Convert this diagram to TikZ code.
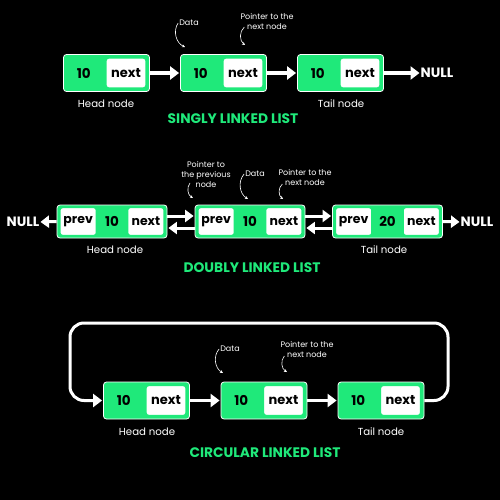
\documentclass[tikz,border=0pt]{standalone}
\usepackage{fontspec}
\setmainfont{Poppins}
\usetikzlibrary{positioning,arrows.meta,calc}
\definecolor{lgreen}{RGB}{31,233,122}
\tikzset{
  frame/.style={draw=white,line width=0.8pt,fill=lgreen,rounded corners=3pt,inner sep=0pt},
  cell/.style={draw=lgreen,line width=2.4pt,fill=white,rounded corners=3pt,inner sep=0pt,
    text=black,font=\fontsize{13}{14}\selectfont\bfseries},
  datum/.style={inner sep=0pt,text=black,font=\fontsize{13.5}{14}\selectfont\bfseries},
  caption/.style={text=white,font=\fontsize{10.2}{11}\selectfont},
  note/.style={text=white,align=center,inner sep=0pt,font=\fontsize{8}{10}\selectfont},
  title/.style={text=lgreen,font=\fontsize{13.8}{15}\selectfont\bfseries},
  null/.style={text=white,inner sep=0pt,font=\fontsize{13.5}{14}\selectfont\bfseries},
  link/.style={draw=white,line width=3.5pt,shorten >=1pt,-{Triangle[length=9pt,width=13pt]}},
  dlink/.style={draw=white,line width=3pt,shorten >=1pt,-{Triangle[length=8.5pt,width=12pt]}},
  curl/.style={draw=white,line width=0.6pt,-{Stealth[length=3pt,width=3pt]}}
}
\begin{document}
\begin{tikzpicture}[x=1pt,y=-1pt]
\fill[black] (0,0) rectangle (500,500);
\useasboundingbox (0,0) rectangle (500,500);

% singly linked list
\foreach \i/\x in {1/106.5,2/223.5,3/340.5}{
  \node[frame,minimum width=86pt,minimum height=37pt] (s\i) at (\x,73) {};
  \node[cell,minimum width=41pt,minimum height=31pt,left=2.2pt of s\i.east] (s\i n) {next};
  \node[datum] (s\i d) at ($(s\i.west)!0.5!(s\i n.west)$) {10};
}
\node[null] (snull) at (437,73) {NULL};
\draw[link] (s1.east) -- (s2.west);
\draw[link] (s2.east) -- (s3.west);
\draw[link] (s3.east) -- (snull.west);
\node[caption] (shead) at (106,104) {Head node};
\node[caption] (stail) at (341,104) {Tail node};
\node[title] (stitle) at (233,119) {SINGLY LINKED LIST};
\node[note] (sdata) at (189,23) {Data};
\node[note] (sptr) at (267,21) {Pointer to the\\next node};
\coordinate (sdtip) at (185,47);
\coordinate (sptip) at (245,45);
\draw[curl] ([xshift=-1pt]sdata.west) to[bend right=50] (sdtip);
\draw[curl] ($(sptr.west)+(4,6)$) to[bend right=50] (sptip);

% doubly linked list
\foreach \i/\x/\v in {1/112/10,2/250/10,3/387.5/20}{
  \node[frame,minimum width=110pt,minimum height=33pt] (d\i) at (\x,221.5) {};
  \node[cell,font=\fontsize{12.5}{13}\selectfont\bfseries,minimum width=37.5pt,minimum height=29pt,right=1.6pt of d\i.west] (d\i p) {prev};
  \node[cell,font=\fontsize{12.5}{13}\selectfont\bfseries,minimum width=37.5pt,minimum height=29pt,left=1.6pt of d\i.east] (d\i n) {next};
  \node[datum] (d\i d) at ($(d\i p.east)!0.5!(d\i n.west)$) {\v};
}
\node[null] (dnulll) at (23,222) {NULL};
\node[null] (dnullr) at (477,222) {NULL};
\draw[dlink] (d1.west) -- (dnulll.east);
\draw[dlink] (d3.east) -- (dnullr.west);
\draw[dlink] ([yshift=5.5pt]d1.east) -- ([yshift=5.5pt]d2.west);
\draw[dlink] ([yshift=-6.5pt]d2.west) -- ([yshift=-6.5pt]d1.east);
\draw[dlink] ([yshift=5.5pt]d2.east) -- ([yshift=5.5pt]d3.west);
\draw[dlink] ([yshift=-6.5pt]d3.west) -- ([yshift=-6.5pt]d2.east);
\node[caption] (dhead) at (115,250) {Head node};
\node[caption] (dtail) at (384,250) {Tail node};
\node[title] (dtitle) at (252,268) {DOUBLY LINKED LIST};
\node[note] (dprv) at (206,174) {Pointer to\\the previous\\node};
\node[note] (ddata) at (255,174) {Data};
\node[note] (dptr) at (305,177) {Pointer to the\\next node};
\coordinate (dptip) at (193,198);
\coordinate (ddtip) at (248,199);
\coordinate (dntip) at (283,199);
\draw[curl] (190,183) to[bend right=50] (dptip);
\draw[curl] ([xshift=-1pt]ddata.west) to[bend right=50] (ddtip);
\draw[curl] ($(dptr.west)+(4,7)$) to[bend right=50] (dntip);

% circular linked list
\foreach \i/\x in {1/146.5,2/264,3/381}{
  \node[frame,minimum width=86pt,minimum height=37pt] (c\i) at (\x,400.5) {};
  \node[cell,minimum width=41pt,minimum height=31pt,left=2.2pt of c\i.east] (c\i n) {next};
  \node[datum] (c\i d) at ($(c\i.west)!0.5!(c\i n.west)$) {10};
}
\coordinate (ctop) at (448,323);
\coordinate (cleft) at (70,323);
\draw[link] (c1.east) -- (c2.west);
\draw[link] (c2.east) -- (c3.west);
\draw[link,line width=3pt,rounded corners=14pt] (c3.east) -| (ctop) -- (cleft) |- (c1.west);
\node[caption] (chead) at (147,432) {Head node};
\node[caption] (ctail) at (381,432) {Tail node};
\node[title] (ctitle) at (265,453) {CIRCULAR LINKED LIST};
\node[note] (cdata) at (230,349) {Data};
\node[note] (cptr) at (307,349) {Pointer to the\\next node};
\coordinate (cdtip) at (223,373);
\coordinate (cptip) at (287,372);
\draw[curl] ([xshift=-1pt]cdata.west) to[bend right=50] (cdtip);
\draw[curl] ($(cptr.west)+(4,7)$) to[bend right=50] (cptip);
\end{tikzpicture}
\end{document}
